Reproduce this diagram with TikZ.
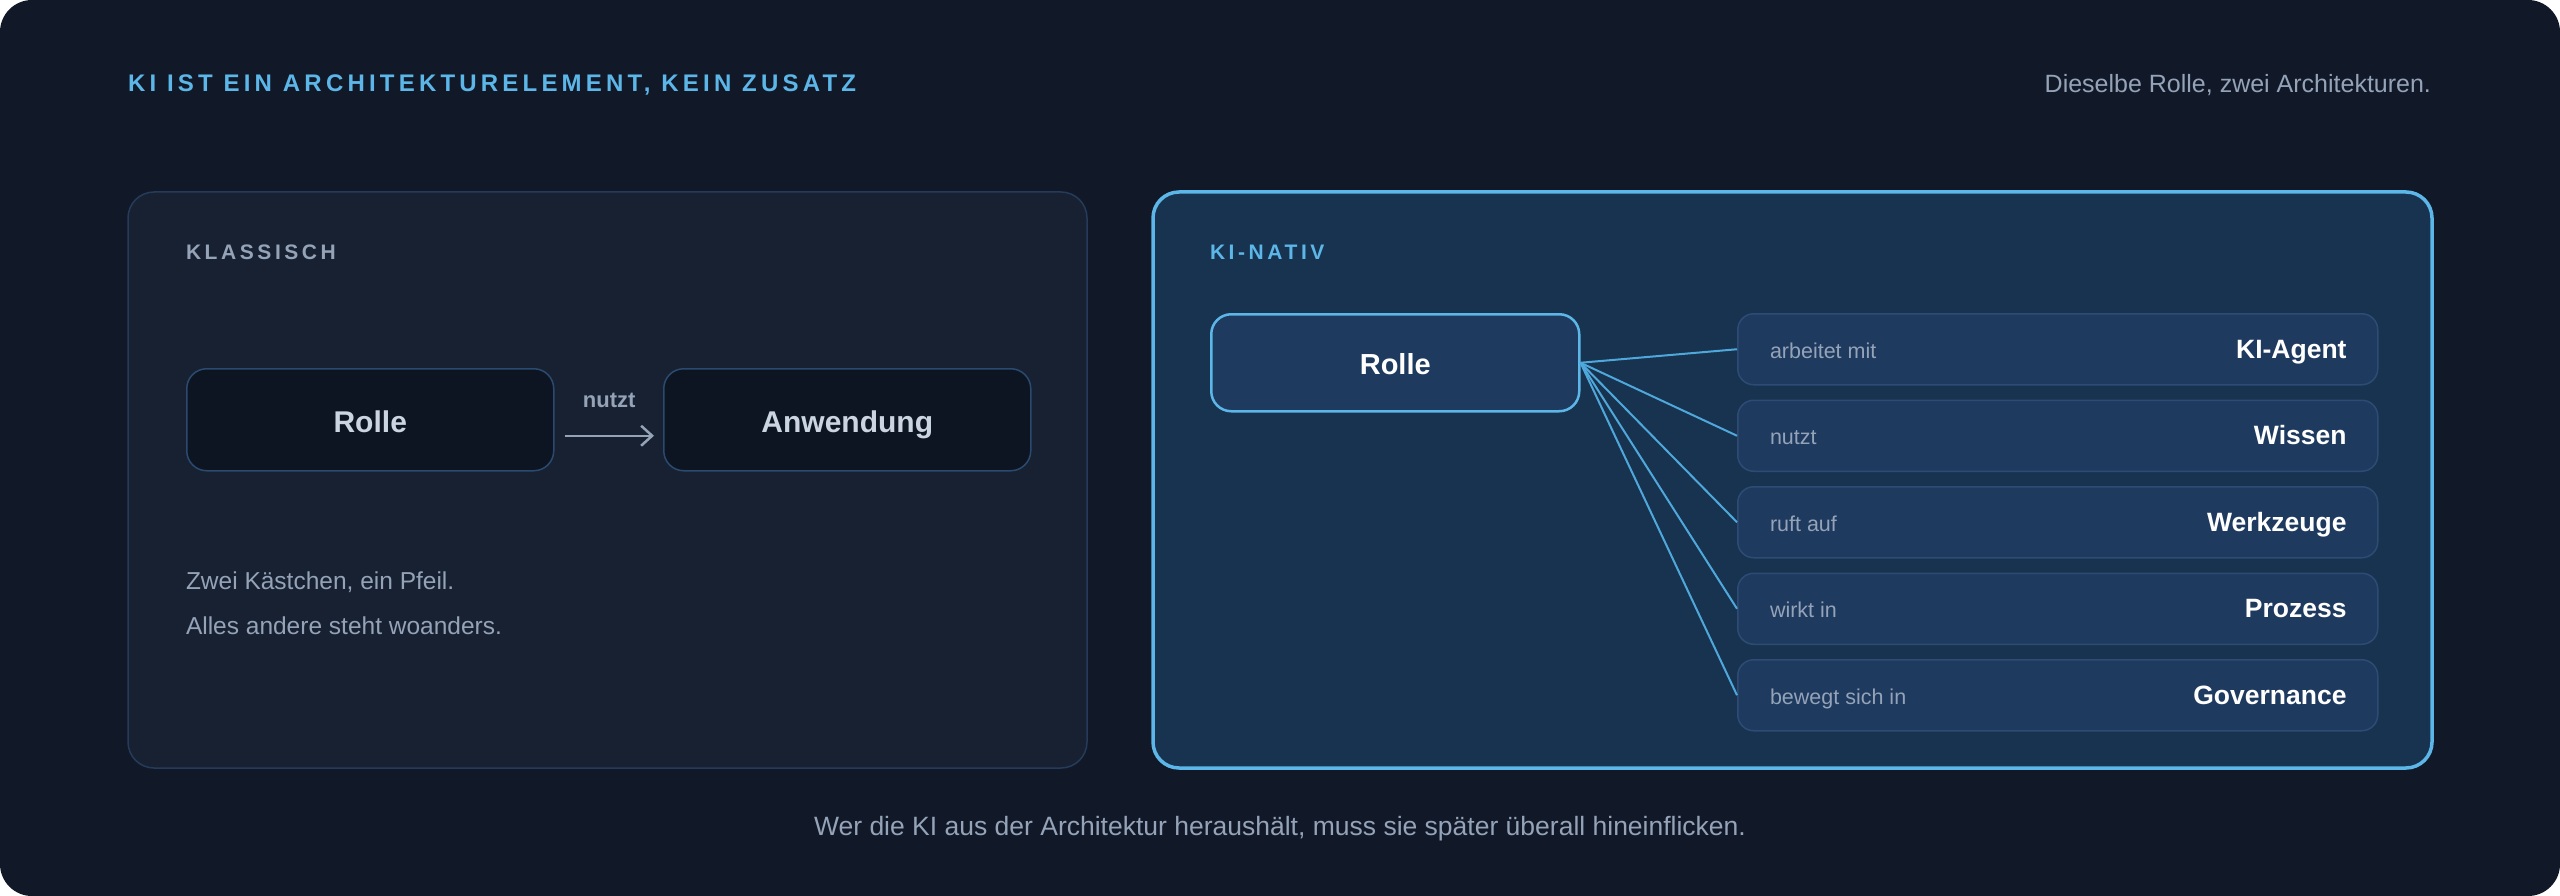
\documentclass[tikz,border=0pt]{standalone}
\usepackage{fontspec}
\setmainfont{Liberation Sans}
\newfontfamily\titlefont{Liberation Sans}[LetterSpace=17.5]
\newfontfamily\secfont{Liberation Sans}[LetterSpace=17]
\usetikzlibrary{arrows.meta}
\definecolor{bgout}{HTML}{111827}
\definecolor{panelL}{HTML}{182131}
\definecolor{panelLb}{HTML}{263B5A}
\definecolor{panelR}{HTML}{18334F}
\definecolor{accent}{HTML}{5CB6E8}
\definecolor{boxL}{HTML}{0E1522}
\definecolor{boxLb}{HTML}{2A4A70}
\definecolor{itemF}{HTML}{1F3A5F}
\definecolor{itemB}{HTML}{2D4B74}
\definecolor{rolleF}{HTML}{1E3A5F}
\definecolor{muted}{HTML}{94A3B8}
\definecolor{lightt}{HTML}{CBD5E1}
\definecolor{linec}{HTML}{4FA8DC}
\tikzset{
  txt/.style={inner sep=0pt, outer sep=0pt},
  boxleft/.style={draw=boxLb, fill=boxL, line width=1.5pt, rounded corners=20pt,
    minimum width=367pt, minimum height=102pt, anchor=north west, inner sep=0pt,
    text height=30pt, text depth=4pt,
    text=lightt, font=\bfseries\fontsize{30}{36}\selectfont},
  rollebox/.style={draw=accent, fill=rolleF, line width=2.5pt, rounded corners=20pt,
    minimum width=368pt, minimum height=97pt, anchor=north west, inner sep=0pt,
    text height=27pt, text depth=4pt,
    text=white, font=\bfseries\fontsize{29}{34}\selectfont},
  itembox/.style={draw=itemB, fill=itemF, line width=1.5pt, rounded corners=16pt,
    minimum width=640pt, minimum height=71pt, anchor=north west, inner sep=0pt},
  verb/.style={txt, anchor=base west, text=muted, font=\fontsize{21.5}{26}\selectfont},
  noun/.style={txt, anchor=base east, text=white, font=\bfseries\fontsize{26.5}{31}\selectfont},
  conn/.style={draw=linec, line width=2pt},
}
\begin{document}
\begin{tikzpicture}[x=1pt,y=-1pt]
\useasboundingbox (0,0) rectangle (2560,896);
\fill[white] (0,0) rectangle (2560,896);
\fill[bgout, rounded corners=32pt] (0,0) rectangle (2560,896);

% header
\node[txt, anchor=base west, text=accent, font=\titlefont\bfseries\fontsize{24}{29}\selectfont] (title) at (128,92) {KI IST EIN ARCHITEKTURELEMENT, KEIN ZUSATZ};
\node[txt, anchor=base east, text=muted, font=\fontsize{25}{30}\selectfont] (sub) at (2431,93) {Dieselbe Rolle, zwei Architekturen.};

% left panel
\draw[panelLb, fill=panelL, line width=1.5pt, rounded corners=26pt] (128,192) rectangle (1087,768);
\node[txt, anchor=base west, text=muted, font=\secfont\bfseries\fontsize{21}{25}\selectfont] (klass) at (186,259) {KLASSISCH};
\node[boxleft] (rolleL) at (186,368) {Rolle};
\node[boxleft] (anw) at (663,368) {Anwendung};
\draw[muted, line width=2.5pt, -{Straight Barb[length=11pt,width=20pt,line width=2.5pt]}]
  ([xshift=10pt,yshift=-16pt]rolleL.east) -- node[txt, above=28pt, text=muted, font=\bfseries\fontsize{22}{26}\selectfont] (nutztL) {nutzt} ([xshift=-9pt,yshift=-16pt]anw.west);
\node[txt, anchor=base west, text=muted, font=\fontsize{24.5}{29}\selectfont] (zwei) at (186,589) {Zwei Kästchen, ein Pfeil.};
\node[txt, anchor=base west, text=muted, font=\fontsize{24.5}{29}\selectfont] (alles) at (186,634) {Alles andere steht woanders.};

% right panel
\draw[accent, fill=panelR, line width=3.5pt, rounded corners=26pt] (1153,192) rectangle (2432,768);
\node[txt, anchor=base west, text=accent, font=\secfont\bfseries\fontsize{21}{25}\selectfont] (kinativ) at (1210,259) {KI-NATIV};
\node[rollebox] (rolleR) at (1210,313) {Rolle};

\foreach \i/\y/\v/\n in {1/313/arbeitet mit/KI-Agent, 2/399.5/nutzt/Wissen, 3/486/ruft auf/Werkzeuge, 4/572.5/wirkt in/Prozess, 5/659/bewegt sich in/Governance}{
  \node[itembox] (item\i) at (1737,\y) {};
  \node[verb] (verb\i) at ([xshift=33pt,yshift=-9pt]item\i.west) {\v};
  \node[noun] (noun\i) at ([xshift=-32pt,yshift=-9pt]item\i.east) {\n};
  \draw[conn] (rolleR.east) -- (item\i.west);
}

% footer
\node[txt, anchor=base, text=muted, font=\fontsize{26.5}{32}\selectfont] (foot) at (1280,835) {Wer die KI aus der Architektur heraushält, muss sie später überall hineinflicken.};
\end{tikzpicture}
\end{document}
